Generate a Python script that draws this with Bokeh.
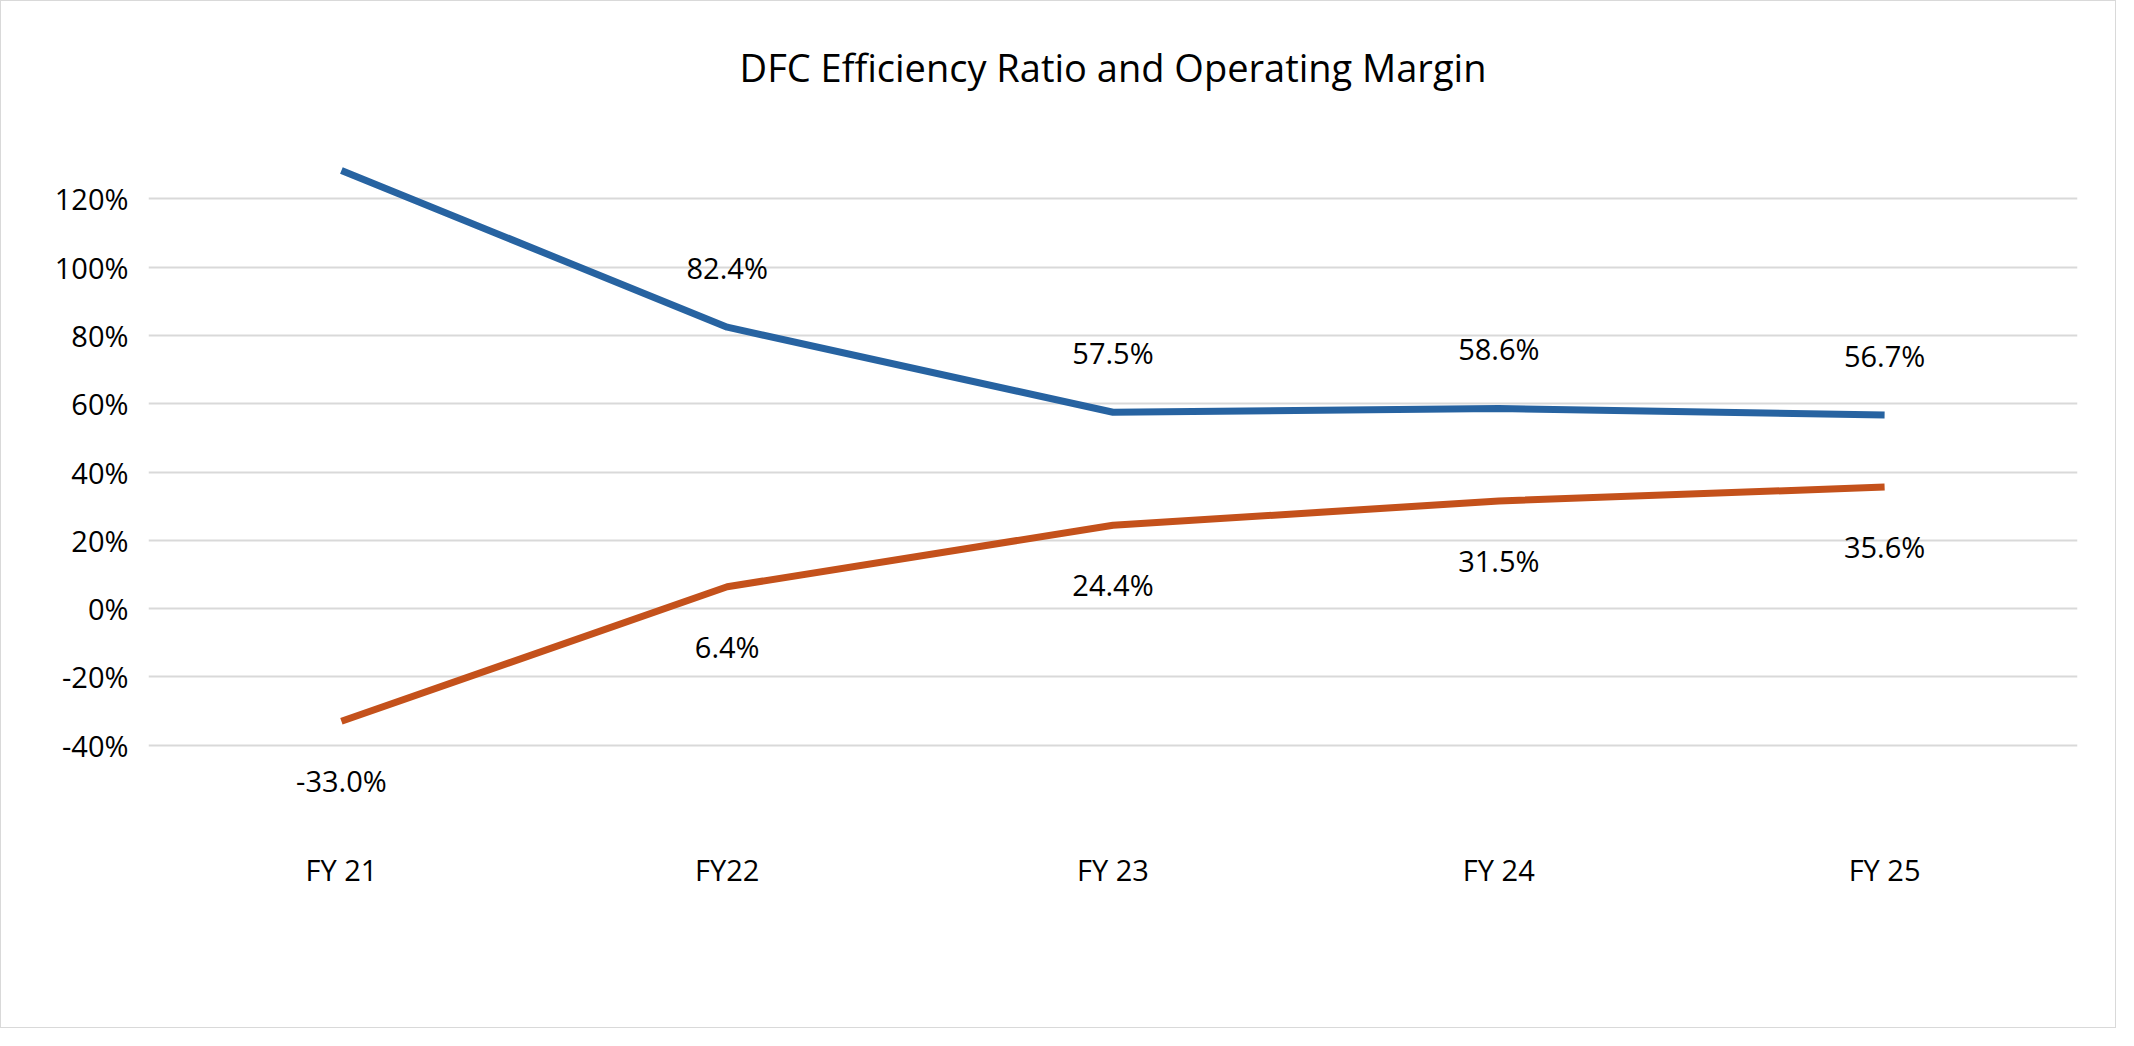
from bokeh.plotting import figure
from bokeh.models import ColumnDataSource, LabelSet, Legend, LegendItem, NumeralTickFormatter, SingleIntervalTicker
from bokeh.core.properties import value
from bokeh.embed import file_html
from bokeh.resources import INLINE

categories = ["FY 21", "FY22", "FY 23", "FY 24", "FY 25"]
efficiency = [1.283, 0.824, 0.575, 0.586, 0.567]
margin = [-0.330, 0.064, 0.244, 0.315, 0.356]

FONT = "Open Sans"
BLUE = "#2763A1"
ORANGE = "#C4511B"

p = figure(x_range=categories, y_range=(-0.6, 1.4), width=2116, height=1028,
           output_backend="svg", toolbar_location=None,
           min_border_left=147, min_border_right=40, min_border_top=20, min_border_bottom=216)
p.styles = {"border": "1px solid #D9D9D9"}
p.title.text = "DFC Efficiency Ratio and Operating Margin"
p.title.align = "center"
p.title.text_font = FONT
p.title.text_font_size = "38px"
p.title.text_font_style = "normal"
p.title.text_color = "#000000"
p.title.standoff = 75

p.yaxis.ticker = SingleIntervalTicker(interval=0.2)
p.yaxis.formatter = NumeralTickFormatter(format="0%")
for ax in (p.xaxis, p.yaxis):
    ax.axis_line_color = None
    ax.major_tick_line_color = None
    ax.minor_tick_line_color = None
    ax.major_label_text_font = FONT
    ax.major_label_text_font_size = "29px"
    ax.major_label_text_color = "#000000"
p.xaxis.major_label_standoff = 30
p.yaxis.major_label_standoff = 14
p.xgrid.grid_line_color = None
p.ygrid.grid_line_color = "#D9D9D9"
p.ygrid.grid_line_width = 2
p.outline_line_color = None

src = ColumnDataSource(dict(
    x=categories, e=efficiency, m=margin,
    el=[f"{v*100:.1f}%" for v in efficiency],
    ml=[f"{v*100:.1f}%" for v in margin]))

r1 = p.line("x", "e", source=src, line_color=BLUE, line_width=7)
r2 = p.line("x", "m", source=src, line_color=ORANGE, line_width=7)

for col, lab, off, base in (("e", "el", 40, "bottom"), ("m", "ml", -40, "top")):
    p.add_layout(LabelSet(x="x", y=col, text=lab, source=src, y_offset=off,
                          text_align="center", text_baseline=base,
                          text_font=value(FONT), text_font_size="29px", text_color="#000000"))

legend = Legend(items=[LegendItem(label="Efficiency Ratio", renderers=[r1]),
                       LegendItem(label="Operating margin", renderers=[r2])],
                orientation="horizontal", location=(479, -195),
                label_text_font=FONT, label_text_font_size="29px",
                glyph_width=95, label_standoff=6, spacing=40,
                border_line_color=None, background_fill_alpha=0)
p.add_layout(legend, "center")

open("out.html", "w").write(file_html(p, INLINE))
